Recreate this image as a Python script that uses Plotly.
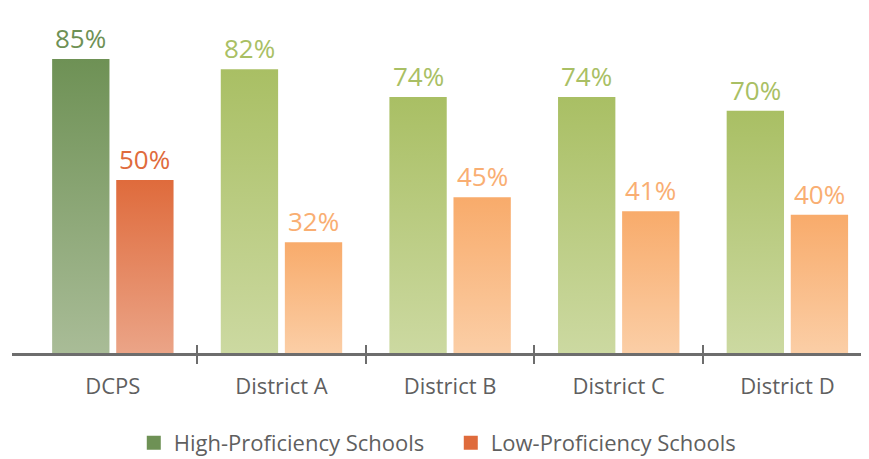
import plotly.graph_objects as go

districts = ["DCPS", "District A", "District B", "District C", "District D"]
high_prof = [85, 82, 74, 74, 70]
low_prof = [50, 32, 45, 41, 40]

# colours: (top, bottom) of each bar's gradient, first bar is DCPS
high_cols = [("#6e9155", "#a9bc97")] + [("#a9bf64", "#ccd9a1")] * 4
low_cols = [("#df6b3c", "#eba487")] + [("#f8ab6b", "#fbcea6")] * 4
high_text = ["#6e9155"] + ["#a9bf64"] * 4
low_text = ["#df6b3c"] + ["#f9ae72"] * 4

bar_w = 0.34
offset = 0.19

fig = go.Figure()

for series, cols, tcols, sign in [(high_prof, high_cols, high_text, -1),
                                   (low_prof, low_cols, low_text, 1)]:
    for i, v in enumerate(series):
        cx = i + sign * offset
        x0, x1 = cx - bar_w / 2, cx + bar_w / 2
        fig.add_trace(go.Scatter(
            x=[x0, x0, x1, x1, x0], y=[0, v, v, 0, 0],
            mode="lines", line=dict(width=0), fill="toself",
            fillgradient=dict(type="vertical",
                              colorscale=[[0, cols[i][1]], [1, cols[i][0]]]),
            hoverinfo="skip", showlegend=False))
        fig.add_annotation(x=cx, y=v, text=f"{v}%", showarrow=False,
                           yanchor="bottom", yshift=1,
                           font=dict(size=26, color=tcols[i]))

# legend entries
fig.add_trace(go.Scatter(x=[None], y=[None], mode="markers",
                         name="High-Proficiency Schools",
                         marker=dict(symbol="square", size=14, color="#6e9155")))
fig.add_trace(go.Scatter(x=[None], y=[None], mode="markers",
                         name="Low-Proficiency Schools",
                         marker=dict(symbol="square", size=14, color="#df6b3c")))

seps = [i + 0.5 for i in range(len(districts) - 1)]

# page body has an 8px margin, so the figure is made 8px smaller
fig.update_layout(
    width=861, height=451,
    margin=dict(l=4, r=0, t=12, b=106, autoexpand=False),
    plot_bgcolor="white", paper_bgcolor="white",
    font=dict(family="Open Sans", color="#5f5f5f"),
    xaxis=dict(range=[-0.598, 4.484], tickvals=list(range(len(districts))),
               ticktext=districts, ticks="", showgrid=False, zeroline=False,
               showline=True, linecolor="#6d6d6d", linewidth=2.5,
               tickfont=dict(size=22, color="#5f5f5f"),
               ticklabelstandoff=12,
               minor=dict(tickvals=seps, ticks="outside", ticklen=8,
                          tickwidth=2, tickcolor="#6d6d6d")),
    xaxis2=dict(range=[-0.598, 4.484], overlaying="x", anchor="y",
                side="bottom", tickvals=seps, ticks="inside", ticklen=8,
                tickwidth=2, tickcolor="#6d6d6d", showticklabels=False,
                showgrid=False, zeroline=False, showline=False),
    yaxis=dict(range=[0, 96.27], visible=False),
    showlegend=True,
    legend=dict(orientation="h", xanchor="center", x=0.512, yanchor="middle",
                y=-0.27, font=dict(size=22, color="#5f5f5f"),
                entrywidth=272, entrywidthmode="pixels"),
)
# dummy trace so xaxis2 renders
fig.add_trace(go.Scatter(x=[None], y=[None], xaxis="x2", showlegend=False,
                         hoverinfo="skip"))

fig.write_html("out.html")
